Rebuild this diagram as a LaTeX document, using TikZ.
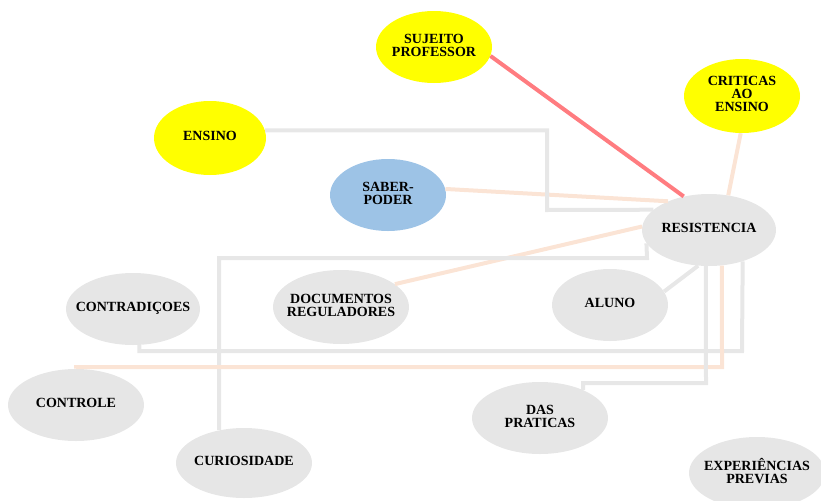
\documentclass[tikz,border=0pt]{standalone}
\usepackage{fontspec}
\setmainfont{Liberation Serif}
\usetikzlibrary{shapes.geometric}
\definecolor{nodegray}{RGB}{230,230,230}
\definecolor{linegray}{RGB}{231,231,231}
\definecolor{peach}{RGB}{251,228,213}
\definecolor{redline}{RGB}{255,124,128}
\definecolor{yel}{RGB}{255,255,0}
\definecolor{blu}{RGB}{157,195,230}
\newcommand{\lbl}[1]{\makebox[0pt]{\fontsize{10.5}{9.8}\selectfont\bfseries\begin{tabular}{@{}c@{}}#1\end{tabular}}}
\begin{document}
\begin{tikzpicture}[x=0.75pt,y=-0.75pt,
  bub/.style 2 args={ellipse, draw=none, inner sep=0pt, minimum width=#1, minimum height=#2},
  gbub/.style 2 args={bub={#1}{#2}, fill=nodegray},
  ybub/.style 2 args={bub={#1}{#2}, fill=yel},
  bbub/.style 2 args={bub={#1}{#2}, fill=blu},
  gline/.style={draw=linegray, line width=3pt},
  pline/.style={draw=peach, line width=3pt},
  rline/.style={draw=redline, line width=3pt}]
\useasboundingbox (0,0) rectangle (821,500);
\clip (0,0) rectangle (821,500);

% nodes
\node[ybub={87pt}{54pt}]     (suj) at (434,47)  {\lbl{SUJEITO\\PROFESSOR}};
\node[ybub={84pt}{55.5pt}]   (ens) at (210,138) {\lbl{ENSINO}};
\node[bbub={87pt}{54pt}]     (sab) at (388,195) {\lbl{SABER-\\PODER}};
\node[ybub={87pt}{55.5pt}]   (cri) at (742,96)  {\lbl{CRITICAS\\AO\\ENSINO}};
\node[gbub={100.5pt}{54pt}]  (res) at (709,230) {\lbl{RESISTENCIA}};
\node[gbub={87pt}{54pt}]     (alu) at (610,305) {\lbl{ALUNO}};
\node[gbub={100.5pt}{54pt}]  (con) at (133,309) {\lbl{CONTRADIÇOES}};
\node[gbub={102pt}{55.5pt}]  (doc) at (341,307) {\lbl{DOCUMENTOS\\REGULADORES}};
\node[gbub={102pt}{54pt}]    (ctl) at (76,405)  {\lbl{CONTROLE}};
\node[gbub={102pt}{52.5pt}]  (cur) at (244,463) {\lbl{CURIOSIDADE}};
\node[gbub={102pt}{54pt}]    (das) at (540,418) {\lbl{DAS\\PRATICAS}};
\node[gbub={102pt}{54pt}]    (exp) at (757,473) {\lbl{EXPERIÊNCIAS\\PREVIAS}};

% bend points
\coordinate (e1) at (547,210);
\coordinate (c1) at (647,258);
\coordinate (k1) at (742,351);
\coordinate (t1) at (722,367);
\coordinate (d1) at (706,383);

% connectors
\draw[rline] (suj.-9) -- (res.127);
\draw[pline] (cri.-92) -- (res.61);
\draw[pline] (sab.6) -- (res.145);
\draw[pline] (doc.23) -- (res.177);
\draw[gline] (alu.14) -- (res.-107);
\draw[gline] (ens.8) -| (e1) -- (res.160);
\draw[gline] (cur.127) |- (c1) -- (res.192);
\draw[gline] (con.-80) |- (k1) -- (res.-43);
\draw[pline] (ctl.north) |- (t1) -- (res.-70);
\draw[gline] (das.33) |- (d1) -- (res.-95);
\end{tikzpicture}
\end{document}
